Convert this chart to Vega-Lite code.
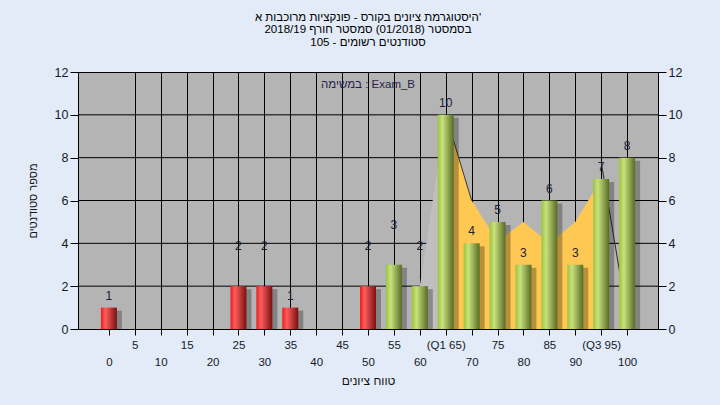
{
  "$schema": "https://vega.github.io/schema/vega-lite/v6.json",
  "width": 580,
  "height": 257,
  "autosize": {"type": "none"},
  "padding": {"left": 78, "top": 72, "right": 62, "bottom": 76},
  "background": "#e2ebf7",
  "config": {
    "font": "Liberation Sans",
    "view": {"fill": "#b4b4b4", "stroke": "#000000", "strokeWidth": 1},
    "axis": {
      "domainColor": "#000000",
      "tickColor": "#000000",
      "gridColor": "#000000",
      "labelColor": "#141a2a",
      "titleColor": "#141414",
      "labelFont": "Liberation Sans",
      "titleFont": "Liberation Sans",
      "titleFontWeight": "normal"
    }
  },
  "title": {
    "text": ["היסטוגרמת ציונים בקורס - פונקציות מרוכבות א'", "בסמסטר  (01/2018)  סמסטר חורף 2018/19", "סטודנטים רשומים - 105"],
    "fontSize": 11.5,
    "fontWeight": "normal",
    "color": "#000000",
    "lineHeight": 12.5,
    "offset": 18,
    "anchor": "middle"
  },
  "datasets": {
    "bars": [
      {"score": 0, "count": 1},
      {"score": 25, "count": 2},
      {"score": 30, "count": 2},
      {"score": 35, "count": 1},
      {"score": 50, "count": 2},
      {"score": 55, "count": 3},
      {"score": 60, "count": 2},
      {"score": 65, "count": 10},
      {"score": 70, "count": 4},
      {"score": 75, "count": 5},
      {"score": 80, "count": 3},
      {"score": 85, "count": 6},
      {"score": 90, "count": 3},
      {"score": 95, "count": 7},
      {"score": 100, "count": 8}
    ],
    "curve": [
      {"score": 60, "value": 2},
      {"score": 65, "value": 10},
      {"score": 70, "value": 6},
      {"score": 75, "value": 4.1},
      {"score": 80, "value": 5},
      {"score": 85, "value": 4},
      {"score": 90, "value": 5},
      {"score": 95, "value": 7}
    ],
    "edge": [
      {"score": 95, "value": 7.8},
      {"score": 100, "value": 0.6}
    ]
  },
  "encoding": {
    "x": {
      "field": "score", "type": "quantitative",
      "scale": {"domain": [-5, 105], "nice": false, "zero": false},
      "axis": {
        "values": [0, 5, 10, 15, 20, 25, 30, 35, 40, 45, 50, 55, 60, 65, 70, 75, 80, 85, 90, 95, 100],
        "labelExpr": "datum.value == 65 ? '(Q1 65)' : datum.value == 95 ? '(Q3 95)' : (datum.value % 10 == 5 ? datum.label : ['', datum.label])",
        "labelLineHeight": 17,
        "labelBaseline": "top",
        "labelPadding": 4,
        "labelFontSize": 11.5,
        "labelAngle": 0,
        "labelOverlap": false,
        "labelFlush": false,
        "tickSize": 6,
        "grid": true,
        "gridOpacity": {"condition": {"test": "datum.value == 0", "value": 0}, "value": 1},
        "title": "טווח ציונים",
        "titleFontSize": 12,
        "titlePadding": 8
      }
    }
  },
  "layer": [
    {
      "data": {"name": "bars"},
      "mark": {"type": "bar", "size": 16, "opacity": 0},
      "encoding": {
        "y": {
          "field": "count", "type": "quantitative",
          "scale": {"domain": [0, 12], "nice": false},
          "axis": {
            "orient": "left",
            "values": [0, 2, 4, 6, 8, 10, 12],
            "grid": false,
            "tickSize": 8,
            "labelPadding": 2,
            "labelFontSize": 12.5,
            "title": "מספר סטודנטים",
            "titleFontSize": 11,
            "titlePadding": 16
          }
        }
      }
    },
    {
      "data": {"values": [{}]},
      "mark": {"type": "rule", "color": "#000000", "strokeWidth": 1},
      "encoding": {"x": null, "y": {"datum": 2, "type": "quantitative", "axis": null}}
    },
    {
      "data": {"values": [{}]},
      "mark": {"type": "rule", "color": "#000000", "strokeWidth": 1},
      "encoding": {"x": null, "y": {"datum": 4, "type": "quantitative", "axis": null}}
    },
    {
      "data": {"values": [{}]},
      "mark": {"type": "rule", "color": "#000000", "strokeWidth": 1},
      "encoding": {"x": null, "y": {"datum": 6, "type": "quantitative", "axis": null}}
    },
    {
      "data": {"values": [{}]},
      "mark": {"type": "rule", "color": "#000000", "strokeWidth": 1},
      "encoding": {"x": null, "y": {"datum": 8, "type": "quantitative", "axis": null}}
    },
    {
      "data": {"values": [{}]},
      "mark": {"type": "rule", "color": "#000000", "strokeWidth": 1},
      "encoding": {"x": null, "y": {"datum": 10, "type": "quantitative", "axis": null}}
    },
    {
      "data": {"name": "curve"},
      "transform": [{"filter": "datum.score <= 65"}],
      "mark": {"type": "area", "color": "#bfbfbf"},
      "encoding": {
        "y": {"field": "value", "type": "quantitative", "axis": null}
      }
    },
    {
      "data": {"name": "curve"},
      "transform": [{"filter": "datum.score >= 65"}],
      "mark": {"type": "area", "color": "#ffc853"},
      "encoding": {
        "y": {
          "field": "value", "type": "quantitative",
          "axis": {
            "orient": "right",
            "values": [0, 2, 4, 6, 8, 10, 12],
            "grid": false,
            "tickSize": 8,
            "labelPadding": 2,
            "labelFontSize": 12.5,
            "title": null
          }
        }
      }
    },
    {
      "data": {"name": "curve"},
      "transform": [{"filter": "datum.score >= 65 && datum.score <= 70"}],
      "mark": {"type": "line", "color": "#3a3a3a", "strokeWidth": 1},
      "encoding": {
        "y": {"field": "value", "type": "quantitative", "axis": null}
      }
    },
    {
      "data": {"name": "edge"},
      "mark": {"type": "line", "color": "#2a2a2a", "strokeWidth": 1},
      "encoding": {
        "y": {"field": "value", "type": "quantitative", "axis": null}
      }
    },
    {
      "data": {"name": "bars"},
      "mark": {"type": "bar", "size": 16, "color": "#000000", "opacity": 0.28, "xOffset": 5, "yOffset": 3, "clip": true},
      "encoding": {
        "y": {"field": "count", "type": "quantitative", "axis": null}
      }
    },
    {
      "data": {"name": "bars"},
      "transform": [{"filter": "datum.score < 55"}],
      "mark": {
        "type": "bar", "size": 16,
        "fill": {"gradient": "linear", "x1": 0, "y1": 0, "x2": 1, "y2": 0,
          "stops": [{"offset": 0, "color": "#e81e1e"}, {"offset": 0.28, "color": "#ff5c5c"}, {"offset": 1, "color": "#781010"}]}
      },
      "encoding": {
        "y": {"field": "count", "type": "quantitative", "axis": null}
      }
    },
    {
      "data": {"name": "bars"},
      "transform": [{"filter": "datum.score >= 55"}],
      "mark": {
        "type": "bar", "size": 16,
        "fill": {"gradient": "linear", "x1": 0, "y1": 0, "x2": 1, "y2": 0,
          "stops": [{"offset": 0, "color": "#9cc43e"}, {"offset": 0.3, "color": "#c8e27c"}, {"offset": 1, "color": "#586a24"}]}
      },
      "encoding": {
        "y": {"field": "count", "type": "quantitative", "axis": null}
      }
    },
    {
      "data": {"name": "bars"},
      "transform": [{"filter": "indexof([25, 30, 50, 55, 60], datum.score) < 0"}],
      "mark": {"type": "text", "fontSize": 12, "baseline": "middle", "dy": -12, "color": "#1c2238"},
      "encoding": {
        "y": {"field": "count", "type": "quantitative", "axis": null},
        "text": {"field": "count"}
      }
    },
    {
      "data": {"name": "bars"},
      "transform": [{"filter": "indexof([25, 30, 50, 55, 60], datum.score) >= 0"}],
      "mark": {"type": "text", "fontSize": 12, "baseline": "middle", "dy": -40, "color": "#1c2238"},
      "encoding": {
        "y": {"field": "count", "type": "quantitative", "axis": null},
        "text": {"field": "count"}
      }
    },
    {
      "data": {"values": [{"score": 50}]},
      "mark": {"type": "text", "fontSize": 11.5, "baseline": "middle", "align": "center", "color": "#2a1e4a"},
      "encoding": {
        "y": {"datum": 11.4, "type": "quantitative", "axis": null},
        "text": {"value": "במשימה : Exam_B"}
      }
    }
  ],
  "resolve": {"axis": {"y": "independent"}}
}
